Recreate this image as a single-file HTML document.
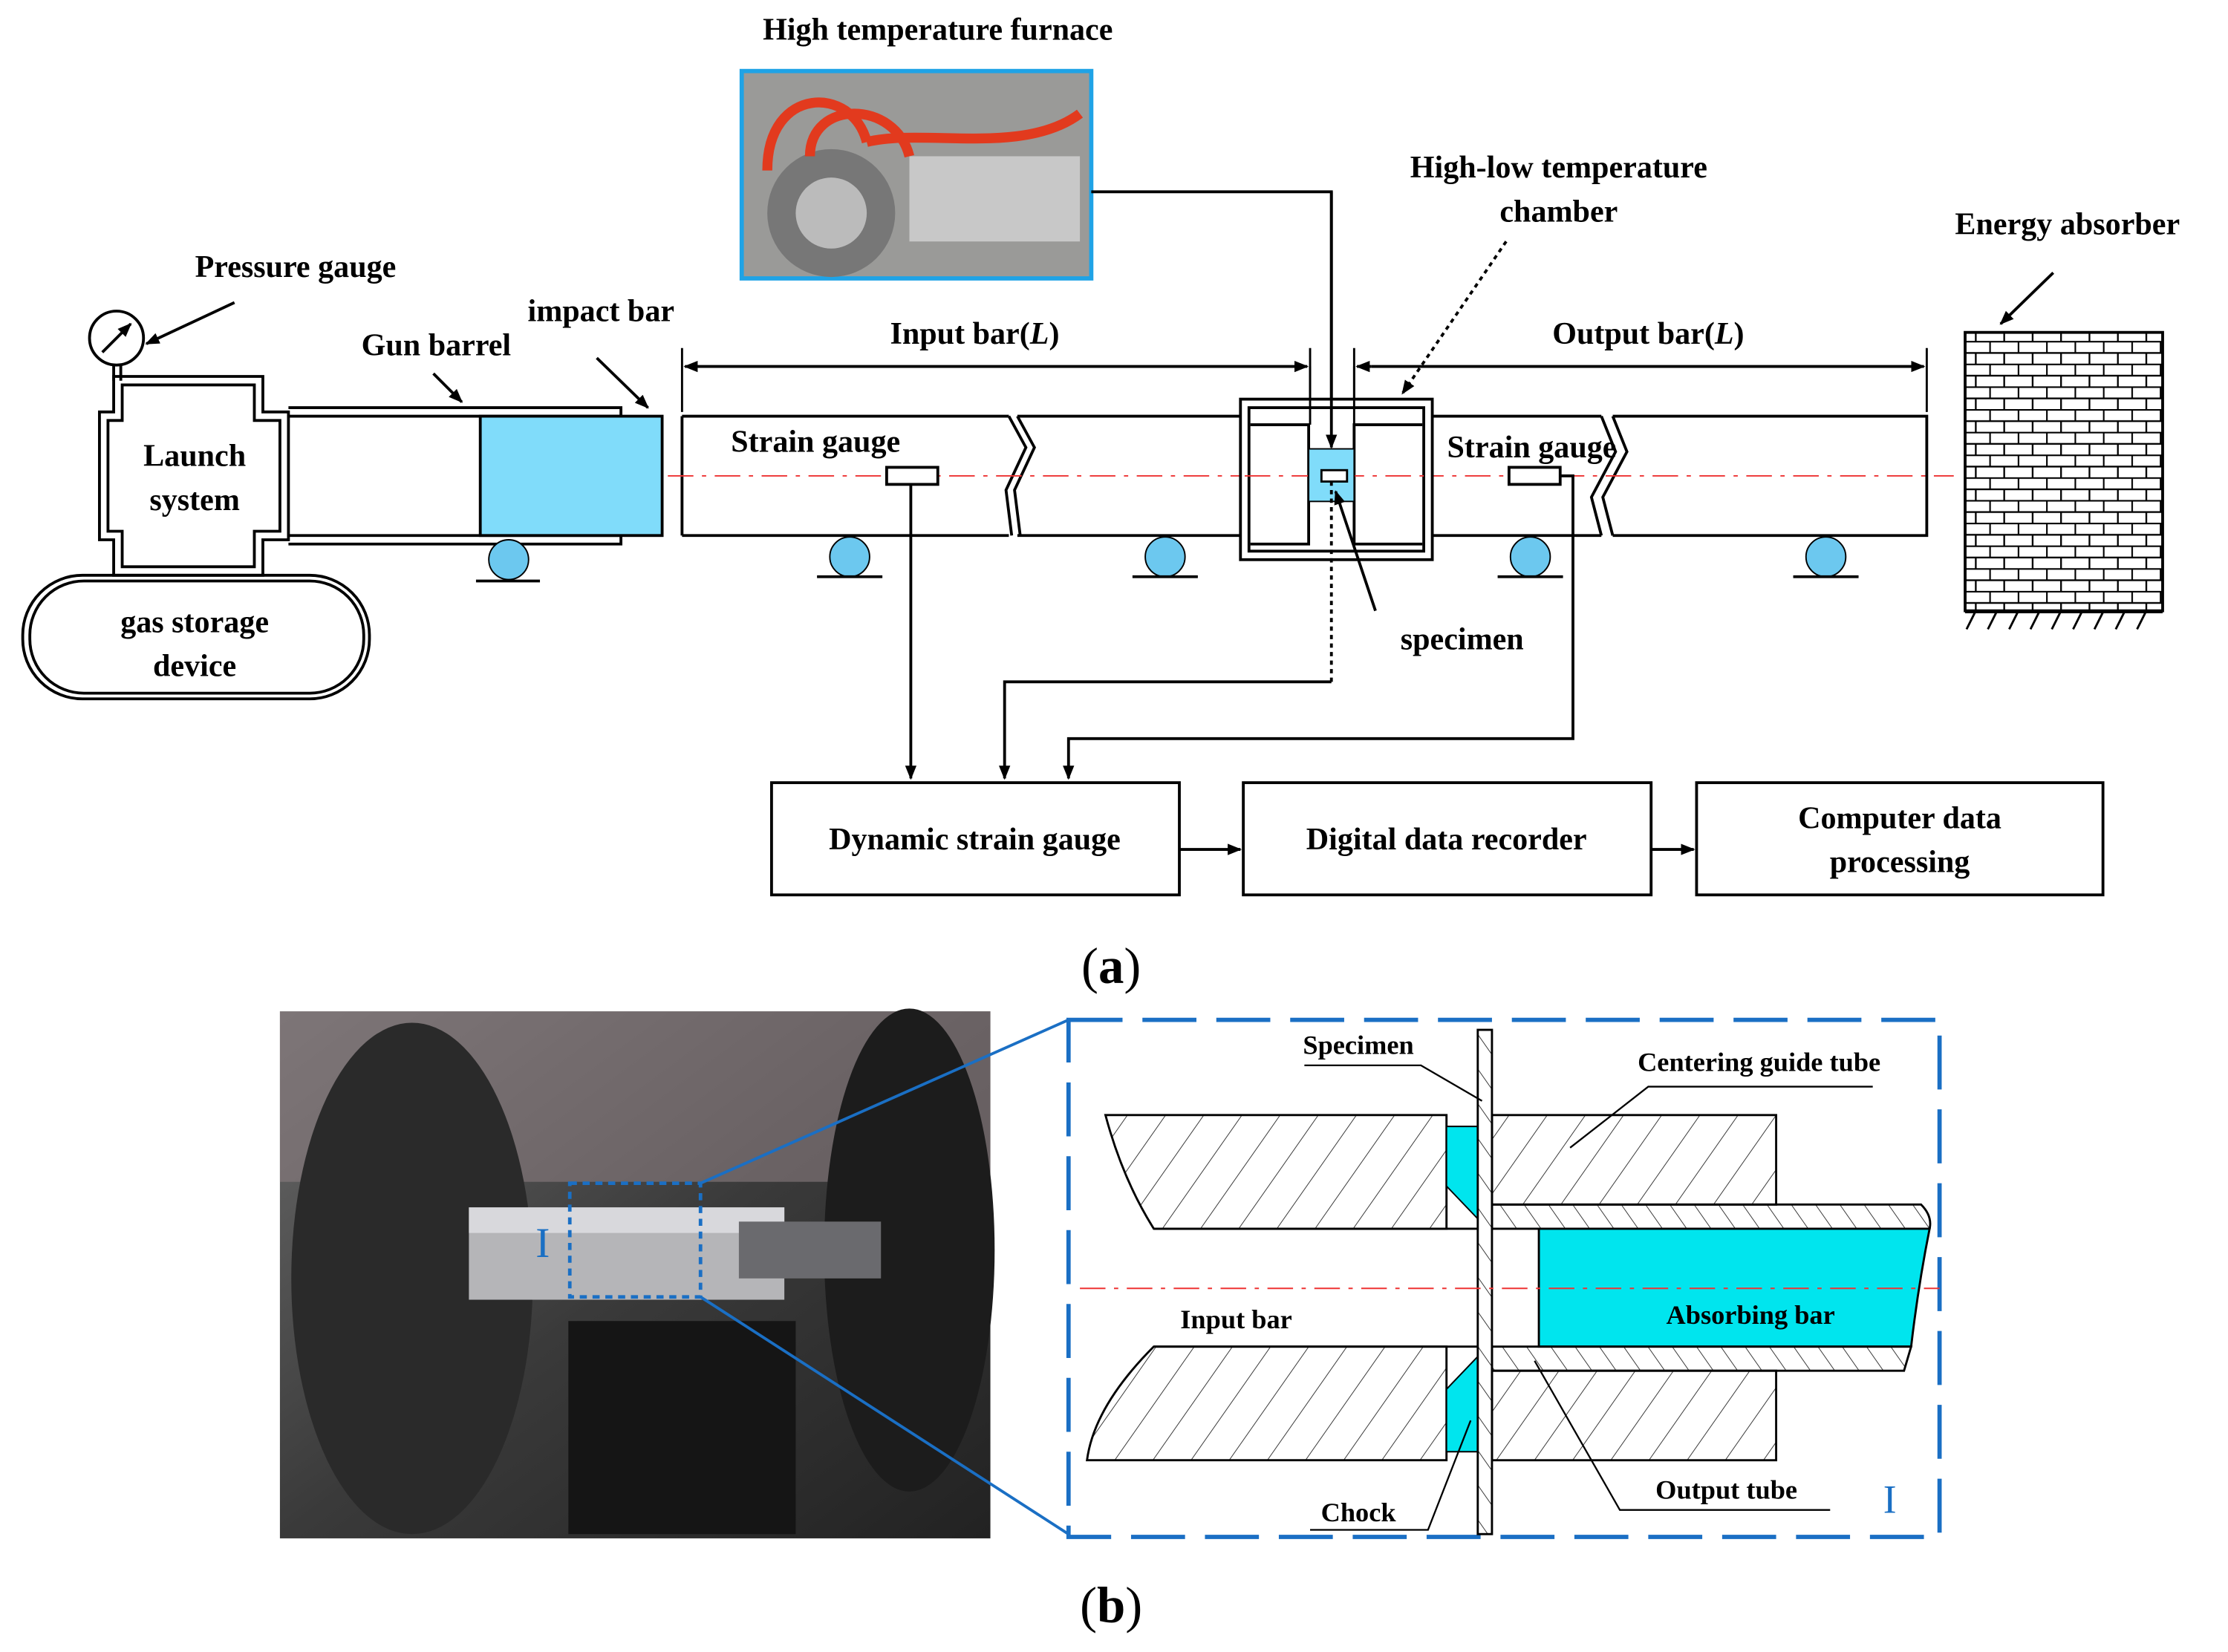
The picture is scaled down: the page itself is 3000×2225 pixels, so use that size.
<!DOCTYPE html>
<html><head><meta charset="utf-8"><style>html,body{margin:0;padding:0;background:#fff}svg{display:block}</style></head>
<body>
<svg width="3000" height="2225" viewBox="0 0 1568 1163" preserveAspectRatio="none" xmlns="http://www.w3.org/2000/svg" font-family="Liberation Serif, serif" font-weight="bold">
<defs>
<marker id="ar" markerWidth="10" markerHeight="10" refX="9" refY="5" orient="auto" markerUnits="userSpaceOnUse"><path d="M0,1 L10,5 L0,9 z" fill="#000"/></marker>
<pattern id="h" width="22" height="22" patternUnits="userSpaceOnUse" patternTransform="rotate(35)"><line x1="0" y1="0" x2="0" y2="22" stroke="#333" stroke-width="1"/></pattern>
<pattern id="h2" width="14" height="14" patternUnits="userSpaceOnUse" patternTransform="rotate(-35)"><line x1="0" y1="0" x2="0" y2="14" stroke="#333" stroke-width="1"/></pattern>
<pattern id="brick" width="20" height="16" patternUnits="userSpaceOnUse"><rect width="20" height="16" fill="#fff"/><path d="M0,0.5H20M0,8.5H20M0.5,0V8M10.5,8V16" stroke="#000" stroke-width="1.2"/></pattern>
<linearGradient id="ph" x1="0" y1="0" x2="1" y2="1"><stop offset="0" stop-color="#6a6a6a"/><stop offset="0.5" stop-color="#3a3a3a"/><stop offset="1" stop-color="#222"/></linearGradient>
</defs>

<text x="660" y="28" font-size="22" text-anchor="middle">High temperature furnace</text>
<rect x="522" y="50" width="246" height="146" fill="#9a9a98" stroke="#1fa3e6" stroke-width="3"/>
<circle cx="585" cy="150" r="45" fill="#777"/><circle cx="585" cy="150" r="25" fill="#bbb"/>
<rect x="640" y="110" width="120" height="60" fill="#c8c8c8"/>
<path d="M540,120 C540,60 600,60 610,100 M570,110 C570,70 630,70 640,110 M610,100 C650,90 720,110 760,80" stroke="#e23a1e" stroke-width="7" fill="none"/>
<path d="M768,135 H937 V315" stroke="#000" stroke-width="2" fill="none" marker-end="url(#ar)"/>

<text x="1097" y="125" font-size="22" text-anchor="middle">High-low temperature</text>
<text x="1097" y="156" font-size="22" text-anchor="middle">chamber</text>
<path d="M1060,170 L987,277" stroke="#000" stroke-width="2" stroke-dasharray="3,3" fill="none" marker-end="url(#ar)"/>

<text x="1455" y="165" font-size="22" text-anchor="middle">Energy absorber</text>
<path d="M1445,192 L1408,228" stroke="#000" stroke-width="2" marker-end="url(#ar)"/>
<rect x="1383" y="234" width="139" height="196" fill="url(#brick)" stroke="#000" stroke-width="2"/>
<path d="M1383,431 H1522 M1390,431 l-6,12 M1405,431 l-6,12 M1420,431 l-6,12 M1435,431 l-6,12 M1450,431 l-6,12 M1465,431 l-6,12 M1480,431 l-6,12 M1495,431 l-6,12 M1510,431 l-6,12" stroke="#000" stroke-width="1.5"/>

<text x="208" y="195" font-size="22" text-anchor="middle">Pressure gauge</text>
<circle cx="82" cy="238" r="19" fill="#fff" stroke="#000" stroke-width="2"/>
<path d="M72,248 L92,228" stroke="#000" stroke-width="2" marker-end="url(#ar)"/>
<path d="M165,213 L103,242" stroke="#000" stroke-width="2" marker-end="url(#ar)"/>
<path d="M80,257 V268 M85,257 V268" stroke="#000" stroke-width="2"/>

<path d="M70,290 H80 V265 H185 V290 H203 V380 H185 V405 H80 V380 H70 Z" fill="none" stroke="#000" stroke-width="2"/>
<path d="M76,296 H86 V271 H179 V296 H197 V374 H179 V399 H86 V374 H76 Z" fill="none" stroke="#000" stroke-width="2"/>
<text x="137" y="328" font-size="22" text-anchor="middle">Launch</text>
<text x="137" y="359" font-size="22" text-anchor="middle">system</text>
<rect x="16" y="405" width="244" height="87" rx="42" fill="none" stroke="#000" stroke-width="2"/>
<rect x="21" y="409" width="235" height="79" rx="38" fill="none" stroke="#000" stroke-width="2"/>
<text x="137" y="445" font-size="22" text-anchor="middle">gas storage</text>
<text x="137" y="476" font-size="22" text-anchor="middle">device</text>

<path d="M203,287 H437 V293 M203,293 H437 M203,377 H437 M203,383 H437 V377" stroke="#000" stroke-width="2" fill="none"/>
<rect x="338" y="293" width="128" height="84" fill="#80dcfa" stroke="#000" stroke-width="2"/>
<text x="307" y="250" font-size="22" text-anchor="middle">Gun barrel</text>
<path d="M305,263 L325,283" stroke="#000" stroke-width="2" marker-end="url(#ar)"/>
<text x="423" y="226" font-size="22" text-anchor="middle">impact bar</text>
<path d="M420,252 L456,287" stroke="#000" stroke-width="2" marker-end="url(#ar)"/>

<g fill="#6cc8ef" stroke="#000" stroke-width="1">
<circle cx="358" cy="394" r="14"/><circle cx="598" cy="392" r="14"/><circle cx="820" cy="392" r="14"/><circle cx="1077" cy="392" r="14"/><circle cx="1285" cy="392" r="14"/>
</g>
<path d="M335,409 H380 M575,406 H621 M797,406 H843 M1054,406 H1100 M1262,406 H1308" stroke="#000" stroke-width="2"/>

<path d="M480,293 H710 M716,293 H873 M1008,293 H1127 M1135,293 H1356 V377 H1135 M1127,377 H1008 M873,377 H716 M710,377 H480 Z" stroke="#000" stroke-width="2" fill="none"/>
<path d="M480,293 V377" stroke="#000" stroke-width="2"/>
<path d="M710,293 L722,315 L708,345 L712,377 M716,293 L728,315 L714,345 L718,377" stroke="#000" stroke-width="2" fill="none"/>
<path d="M1127,293 L1137,318 L1120,350 L1127,377 M1135,293 L1145,318 L1128,350 L1135,377" stroke="#000" stroke-width="2" fill="none"/>
<path d="M470,335 H1375" stroke="#e33" stroke-width="1" stroke-dasharray="18,6,3,6"/>

<path d="M480,245 V290 M922,245 V290 M953,245 V290 M1356,245 V290" stroke="#000" stroke-width="1.5"/>
<path d="M490,258 H920" stroke="#000" stroke-width="2" marker-end="url(#ar)"/>
<path d="M490,258 H482" stroke="#000" stroke-width="2" marker-end="url(#ar)"/>
<path d="M965,258 H1354" stroke="#000" stroke-width="2" marker-end="url(#ar)"/>
<path d="M965,258 H955" stroke="#000" stroke-width="2" marker-end="url(#ar)"/>
<text x="686" y="242" font-size="22" text-anchor="middle">Input bar(<tspan font-style="italic">L</tspan>)</text>
<text x="1160" y="242" font-size="22" text-anchor="middle">Output bar(<tspan font-style="italic">L</tspan>)</text>

<rect x="624" y="329" width="36" height="12" fill="#fff" stroke="#000" stroke-width="2"/>
<rect x="1062" y="329" width="36" height="12" fill="#fff" stroke="#000" stroke-width="2"/>
<text x="574" y="318" font-size="22" text-anchor="middle">Strain gauge</text>
<text x="1078" y="322" font-size="22" text-anchor="middle">Strain gauge</text>

<!-- Chamber -->
<rect x="873" y="281" width="135" height="113" fill="#fff" stroke="#000" stroke-width="2"/>
<rect x="879" y="287" width="123" height="101" fill="none" stroke="#000" stroke-width="2"/>
<path d="M880,299 H921 V383 H880 M1001,299 H953 V383 H1001" fill="none" stroke="#000" stroke-width="2"/>
<path d="M922,258 V299 M953,258 V299" stroke="#000" stroke-width="1.5"/>
<path d="M876,335 H1005" stroke="#e33" stroke-width="1" stroke-dasharray="18,6,3,6"/>
<rect x="921" y="316" width="32" height="37" fill="#80dcfa" stroke="#000" stroke-width="1"/>
<rect x="930" y="331" width="18" height="8" fill="#fff" stroke="#000" stroke-width="1.5"/>
<path d="M937,135 V315" stroke="#000" stroke-width="2" marker-end="url(#ar)"/>
<text x="1029" y="457" font-size="22" text-anchor="middle">specimen</text>
<path d="M968,430 L940,346" stroke="#000" stroke-width="2" marker-end="url(#ar)"/>

<path d="M641,341 V548" stroke="#000" stroke-width="2" marker-end="url(#ar)"/>
<path d="M937,339 V480" stroke="#000" stroke-width="2" stroke-dasharray="3,3"/>
<path d="M937,480 H707 V548" stroke="#000" stroke-width="2" fill="none" marker-end="url(#ar)"/>
<path d="M1098,335 H1107 V520 H752 V548" stroke="#000" stroke-width="2" fill="none" marker-end="url(#ar)"/>

<g fill="#fff" stroke="#000" stroke-width="2">
<rect x="543" y="551" width="287" height="79"/><rect x="875" y="551" width="287" height="79"/><rect x="1194" y="551" width="286" height="79"/>
</g>
<text x="686" y="598" font-size="22" text-anchor="middle">Dynamic strain gauge</text>
<text x="1018" y="598" font-size="22" text-anchor="middle">Digital data recorder</text>
<text x="1337" y="583" font-size="22" text-anchor="middle">Computer data</text>
<text x="1337" y="614" font-size="22" text-anchor="middle">processing</text>
<path d="M830,598 H873" stroke="#000" stroke-width="2" marker-end="url(#ar)"/>
<path d="M1162,598 H1192" stroke="#000" stroke-width="2" marker-end="url(#ar)"/>
<text x="782" y="692" font-size="36" text-anchor="middle" font-weight="normal">(<tspan font-weight="bold">a</tspan>)</text>

<rect x="197" y="712" width="500" height="371" fill="url(#ph)"/>
<rect x="197" y="712" width="500" height="120" fill="#8a7d80" opacity="0.6"/>
<ellipse cx="290" cy="900" rx="85" ry="180" fill="#2a2a2a"/>
<ellipse cx="640" cy="880" rx="60" ry="170" fill="#1c1c1c"/>
<rect x="330" y="850" width="222" height="65" fill="#b5b5b8"/>
<rect x="330" y="850" width="222" height="18" fill="#d8d8dc"/>
<rect x="520" y="860" width="100" height="40" fill="#6a6a6e"/>
<rect x="400" y="930" width="160" height="150" fill="#151515"/>
<rect x="401" y="833" width="92" height="80" fill="none" stroke="#1a6fc4" stroke-width="2.5" stroke-dasharray="5,4"/>
<text x="382" y="885" font-size="30" fill="#1a6fc4" text-anchor="middle" font-weight="normal">I</text>
<path d="M493,833 L752,718 M493,913 L752,1080" stroke="#1a6fc4" stroke-width="2"/>

<rect x="752" y="718" width="613" height="364" fill="none" stroke="#1a6fc4" stroke-width="3" stroke-dasharray="38,14"/>
<path d="M778,785 H1018 V865 H812 Q790,830 778,785 Z" fill="url(#h)" stroke="#000" stroke-width="1.5"/>
<path d="M765,1028 H1018 V948 H812 Q770,990 765,1028 Z" fill="url(#h)" stroke="#000" stroke-width="1.5"/>
<path d="M812,865 H1040 M812,948 H1040" stroke="#000" stroke-width="1.5"/>
<path d="M1018,793 H1040 V858 L1018,835 Z" fill="#00e5ee" stroke="#000" stroke-width="1"/>
<path d="M1018,1022 H1040 V955 L1018,978 Z" fill="#00e5ee" stroke="#000" stroke-width="1"/>
<rect x="1040" y="725" width="10" height="355" fill="url(#h2)" stroke="#000" stroke-width="1.5"/>
<rect x="1050" y="785" width="200" height="63" fill="url(#h)" stroke="#000" stroke-width="1.5"/>
<path d="M1050,848 H1352 Q1360,856 1358,865 H1050 Z" fill="url(#h2)" stroke="#000" stroke-width="1.5"/>
<path d="M1083,865 H1358 Q1350,905 1345,948 H1083 Z" fill="#00e5ee" stroke="#000" stroke-width="1.5"/>
<path d="M1050,948 H1345 L1340,965 H1050 Z" fill="url(#h2)" stroke="#000" stroke-width="1.5"/>
<rect x="1050" y="965" width="200" height="63" fill="url(#h)" stroke="#000" stroke-width="1.5"/>
<path d="M760,907 H1365" stroke="#e33" stroke-width="1" stroke-dasharray="18,6,3,6"/>

<g font-size="19">
<text x="956" y="742" text-anchor="middle">Specimen</text>
<path d="M918,750 H1000 L1043,775" stroke="#000" stroke-width="1.2" fill="none"/>
<text x="1238" y="754" text-anchor="middle">Centering guide tube</text>
<path d="M1318,765 H1160 L1105,808" stroke="#000" stroke-width="1.2" fill="none"/>
<text x="870" y="935" text-anchor="middle">Input bar</text>
<text x="1232" y="932" text-anchor="middle">Absorbing bar</text>
<text x="956" y="1071" text-anchor="middle">Chock</text>
<path d="M922,1077 H1005 L1035,1000" stroke="#000" stroke-width="1.2" fill="none"/>
<text x="1215" y="1055" text-anchor="middle">Output tube</text>
<path d="M1288,1063 H1140 L1080,958" stroke="#000" stroke-width="1.2" fill="none"/>
</g>
<text x="1330" y="1065" font-size="28" fill="#1a6fc4" text-anchor="middle" font-weight="normal">I</text>
<text x="782" y="1142" font-size="36" text-anchor="middle" font-weight="normal">(<tspan font-weight="bold">b</tspan>)</text>
</svg>
</body></html>
